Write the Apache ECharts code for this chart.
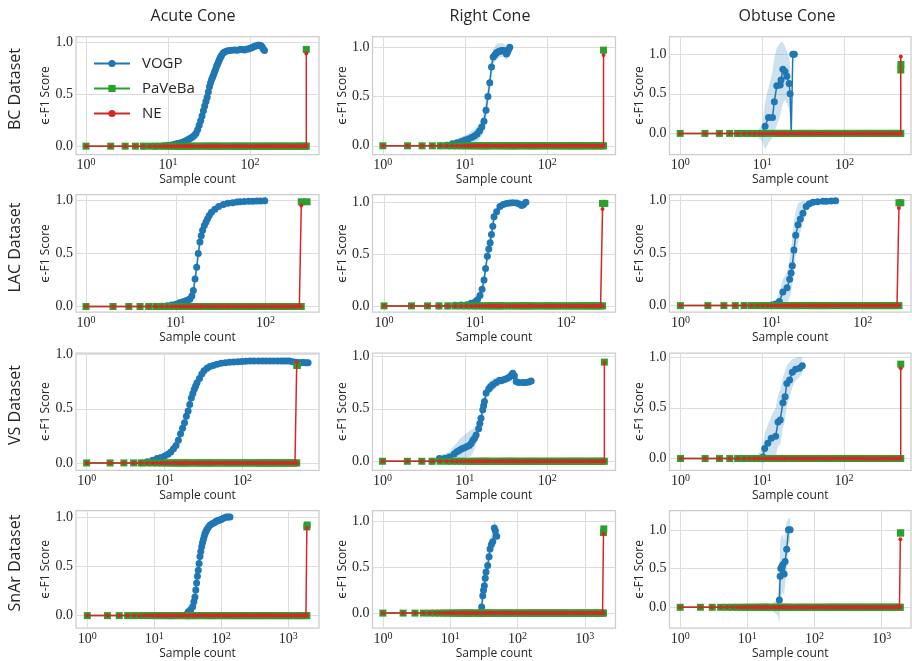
<!DOCTYPE html>
<html><head><meta charset="utf-8">
<script src="https://cdn.jsdelivr.net/npm/echarts@6/dist/echarts.min.js"></script>
<style>html,body{margin:0;padding:0;background:#fff}#c{width:912px;height:661px}</style>
</head><body><div id="c"></div><script>
// ---------------- data ----------------
const datasets = ['BC Dataset', 'LAC Dataset', 'VS Dataset', 'SnAr Dataset'];
const cones = ['Acute Cone', 'Right Cone', 'Obtuse Cone'];
const seriesNames = ['VOGP', 'PaVeBa', 'NE'];
const xTickValues = [[1, 10, 100], [1, 10, 100], [1, 10, 100], [1, 10, 100, 1000]];
const yTickValues = [0, 0.5, 1.0];

// sample counts at which the PaVeBa / NE scores (0 until the end) are plotted
const sampleCounts = [1,2,3,4,5,6,7,8,9,10,11,12,13,14,15,16,17,18,19,20,22,24,26,28,30,32,34,36,38,40,43,46,50,54,58,62,66,70,75,80,86,92,100,107,115,123,132,141,150,160,170,180,190,200,212,225,238,250,265,280,300,320,340,360,380,400,425,450,470,500,530,560,600,640,680,720,760,800,850,900,950,1000,1060,1120,1180,1250,1320,1400,1480,1560,1650,1740,1840,1900];
const finalCount = [485, 250, 495, 1900];      // sample count at which NE / PaVeBa finish
const neFinal = [[0.89, 0.92, 0.97], [0.955, 0.935, 0.93], [0.93, 0.94, 0.89], [0.89, 0.87, 0.88]];
const pavebaFinalBC   = [[[485, 0.93]], [[485, 0.97]], [[485, 0.80], [487, 0.87]]];
const pavebaFinalLAC  = [[[250, 0.99], [290, 0.99]], [[250, 0.99], [265, 0.99]], [[250, 0.98], [262, 0.98]]];
const pavebaFinalVS   = [[[495, 0.90], [505, 0.90]], [[495, 0.945]], [[495, 0.93]]];
const pavebaFinalSnAr = [[[1900, 0.90], [1920, 0.92]], [[1900, 0.88], [1920, 0.92]], [[1900, 0.96], [1920, 0.96]]];

// VOGP: [sample count, mean, lower, upper]
const vogpBcAcute = [[5,0,0,0],[7,0,0,0.005],[9,0.005,0,0.015],[10,0.008,0,0.02],[11,0.012,0,0.03],[12,0.018,0,0.04],[13,0.025,0.005,0.05],[14,0.03,0.01,0.055],[15,0.038,0.015,0.065],[16,0.048,0.02,0.075],[17,0.058,0.03,0.09],[18,0.068,0.04,0.1],[19,0.078,0.05,0.11],[20,0.09,0.06,0.125],[21,0.105,0.07,0.14],[22,0.125,0.09,0.165],[23,0.16,0.12,0.2],[24,0.2,0.16,0.245],[25,0.245,0.2,0.29],[26,0.29,0.245,0.335],[27,0.34,0.295,0.385],[28,0.385,0.34,0.43],[29,0.43,0.385,0.475],[30,0.47,0.425,0.515],[31,0.52,0.475,0.565],[32,0.57,0.525,0.61],[33,0.61,0.57,0.65],[34,0.64,0.6,0.68],[35,0.665,0.625,0.705],[36,0.69,0.65,0.73],[37,0.715,0.675,0.755],[38,0.74,0.7,0.78],[39,0.765,0.725,0.8],[40,0.785,0.75,0.82],[41,0.805,0.77,0.84],[42,0.825,0.79,0.86],[43,0.845,0.81,0.875],[44,0.86,0.83,0.89],[45,0.875,0.845,0.9],[47,0.895,0.87,0.92],[49,0.905,0.88,0.93],[52,0.915,0.89,0.94],[56,0.92,0.895,0.945],[60,0.922,0.9,0.945],[65,0.925,0.9,0.95],[70,0.922,0.9,0.945],[75,0.928,0.905,0.95],[80,0.93,0.905,0.955],[85,0.925,0.9,0.95],[90,0.932,0.91,0.955],[95,0.935,0.91,0.96],[100,0.94,0.915,0.965],[105,0.945,0.92,0.97],[110,0.955,0.93,0.98],[115,0.96,0.935,0.985],[120,0.965,0.94,0.99],[125,0.97,0.945,0.99],[130,0.97,0.945,0.99],[135,0.968,0.945,0.99],[140,0.955,0.93,0.98],[145,0.935,0.91,0.96],[150,0.92,0.895,0.945]];
const vogpBcRight = [[5,0,0,0],[6,0.005,0,0.02],[7,0.02,0,0.05],[8,0.03,0,0.07],[9,0.045,0.005,0.09],[10,0.058,0.01,0.105],[11,0.07,0.015,0.125],[12,0.085,0.02,0.15],[13,0.1,0.03,0.17],[14,0.12,0.045,0.195],[15,0.15,0.07,0.23],[16,0.19,0.1,0.28],[17,0.25,0.15,0.35],[18,0.36,0.25,0.47],[19,0.5,0.39,0.6],[20,0.64,0.54,0.74],[21,0.8,0.7,0.9],[22,0.9,0.82,0.98],[23,0.92,0.85,1.0],[24,0.94,0.87,1.03],[25,0.95,0.88,1.04],[26,0.955,0.89,1.04],[27,0.96,0.9,1.04],[28,0.965,0.9,1.04],[29,0.965,0.9,1.04],[30,0.96,0.89,1.03],[31,0.95,0.88,1.02],[32,0.93,0.87,1.0],[33,0.95,0.9,1.0],[34,0.98,0.95,1.01],[35,1.0,0.98,1.01]];
const vogpBcObtuse = [[5,0,0,0],[8,0,0,0],[10,0,-0.1,0.1],[10.8,0.09,-0.2,0.4],[11.9,0.2,-0.12,0.58],[13.3,0.2,-0.05,0.78],[14,0.4,0.02,0.95],[15,0.6,0.1,1.08],[16.5,0.61,0.22,1.14],[16.9,0.675,0.28,1.15],[17.8,0.81,0.38,1.15],[18.9,0.78,0.42,1.1],[19.9,0.72,0.38,1.04],[21.2,0.63,0.3,0.95],[21.8,0.5,0.1,0.85],[22.5,0,0,0],[23.5,1.0,1.0,1.0],[24.5,1.0,1.0,1.0]];
const vogpLacAcute = [[5,0,0,0],[7,0.003,0,0.01],[8,0.008,0,0.02],[9,0.015,0,0.03],[10,0.022,0.005,0.04],[11,0.035,0.015,0.055],[12,0.045,0.02,0.07],[13,0.055,0.03,0.085],[14,0.065,0.035,0.1],[14.4,0.07,0.04,0.11],[15.1,0.1,0.06,0.14],[15.7,0.15,0.1,0.2],[16.4,0.26,0.2,0.32],[17.1,0.37,0.3,0.44],[17.8,0.5,0.43,0.57],[18.6,0.61,0.54,0.68],[19.2,0.67,0.6,0.74],[19.9,0.72,0.65,0.79],[20.8,0.765,0.7,0.83],[21.7,0.8,0.74,0.86],[22.6,0.83,0.78,0.88],[23.6,0.86,0.81,0.9],[25,0.89,0.85,0.92],[27.3,0.92,0.89,0.945],[30,0.945,0.92,0.965],[33.9,0.965,0.945,0.98],[38,0.975,0.96,0.99],[43,0.982,0.97,0.995],[48,0.987,0.975,0.998],[52,0.99,0.98,1.0],[58,0.992,0.982,1.0],[65,0.994,0.985,1.0],[72,0.996,0.988,1.0],[80,0.997,0.99,1.0],[88,0.998,0.99,1.0],[98,1.0,0.995,1.0]];
const vogpLacRight = [[4,0,0,0],[5,0,0,0.01],[6,0.005,0,0.015],[7,0.008,0,0.02],[8.1,0.012,0,0.03],[9,0.025,0.005,0.045],[10,0.04,0.015,0.065],[10.6,0.06,0.03,0.09],[11.3,0.1,0.06,0.14],[11.9,0.16,0.11,0.21],[12.5,0.25,0.19,0.31],[13,0.36,0.29,0.43],[13.6,0.48,0.41,0.55],[14.1,0.55,0.48,0.62],[14.6,0.61,0.54,0.68],[15.1,0.69,0.62,0.76],[15.6,0.77,0.7,0.83],[16.1,0.86,0.8,0.91],[17.2,0.91,0.87,0.95],[18.7,0.96,0.93,0.985],[20.3,0.98,0.96,0.995],[22.1,0.99,0.975,1.0],[24,0.995,0.98,1.005],[26,0.996,0.985,1.005],[28.5,0.995,0.985,1.005],[30.5,0.985,0.97,1.0],[32.4,0.97,0.955,0.985],[34,0.98,0.965,0.995],[36,1.0,0.99,1.01]];
const vogpLacObtuse = [[5,0,0,0],[8,0,0,0.005],[10,0.005,0,0.015],[11,0.015,0,0.04],[12.2,0.04,-0.03,0.12],[13.3,0.13,-0.02,0.25],[14.8,0.17,0.02,0.32],[15.8,0.25,0.08,0.45],[16.4,0.31,0.13,0.55],[16.9,0.38,0.2,0.65],[17.6,0.53,0.32,0.8],[18.4,0.67,0.47,0.9],[19.5,0.77,0.6,0.97],[20.7,0.825,0.7,0.99],[22.1,0.88,0.79,1.0],[24,0.945,0.9,0.995],[26,0.97,0.94,0.995],[28.5,0.985,0.965,1.0],[32,0.99,0.975,1.0],[36.7,0.995,0.985,1.0],[40,0.995,0.985,1.0],[45,0.998,0.99,1.0],[50.5,1.0,0.995,1.0]];
const vogpVsAcute = [[5,0,0,0.01],[6,0.01,0,0.03],[7,0.025,0,0.05],[8,0.04,0.01,0.07],[9,0.05,0.02,0.08],[10,0.065,0.03,0.1],[11,0.08,0.04,0.115],[12,0.1,0.06,0.135],[13,0.13,0.09,0.17],[14,0.16,0.12,0.2],[15,0.21,0.17,0.25],[16,0.27,0.23,0.31],[17,0.32,0.28,0.36],[18,0.37,0.33,0.41],[19,0.43,0.39,0.47],[20,0.48,0.44,0.52],[21,0.54,0.5,0.58],[22,0.6,0.56,0.64],[23,0.64,0.6,0.68],[24,0.68,0.64,0.72],[25,0.71,0.67,0.75],[26,0.74,0.7,0.77],[28,0.78,0.75,0.81],[30,0.82,0.79,0.845],[32,0.85,0.825,0.87],[35,0.875,0.855,0.895],[38,0.89,0.87,0.91],[42,0.9,0.88,0.92],[47,0.91,0.89,0.93],[53,0.92,0.9,0.94],[60,0.925,0.905,0.945],[68,0.93,0.91,0.95],[77,0.932,0.912,0.952],[87,0.935,0.915,0.955],[98,0.937,0.917,0.957],[110,0.938,0.918,0.958],[125,0.94,0.92,0.96],[140,0.94,0.92,0.96],[160,0.94,0.92,0.96],[180,0.94,0.92,0.96],[200,0.94,0.92,0.96],[225,0.942,0.922,0.962],[250,0.94,0.92,0.96],[280,0.94,0.92,0.96],[310,0.94,0.92,0.96],[340,0.942,0.922,0.962],[370,0.94,0.92,0.96],[400,0.94,0.92,0.96],[440,0.935,0.915,0.955],[480,0.93,0.91,0.95],[520,0.928,0.908,0.948],[560,0.925,0.905,0.945],[600,0.928,0.908,0.948],[650,0.925,0.905,0.945],[692,0.925,0.905,0.945]];
const vogpVsRight = [[4,0,0,0.01],[4.9,0.026,0,0.06],[5.7,0.03,0,0.07],[6.5,0.04,0,0.09],[7.4,0.07,0,0.15],[8,0.09,0.01,0.18],[8.6,0.105,0.02,0.21],[9.2,0.12,0.03,0.23],[9.9,0.13,0.03,0.25],[10.6,0.14,0.04,0.27],[11.3,0.15,0.04,0.29],[11.9,0.17,0.05,0.3],[12.5,0.2,0.08,0.31],[13.1,0.22,0.12,0.32],[13.7,0.25,0.16,0.34],[14.7,0.31,0.24,0.38],[15.2,0.36,0.29,0.43],[15.7,0.41,0.34,0.48],[16.5,0.49,0.42,0.56],[16.9,0.53,0.46,0.6],[17.3,0.57,0.5,0.64],[18.1,0.65,0.58,0.72],[19.5,0.69,0.63,0.75],[20.5,0.71,0.65,0.77],[21.8,0.73,0.67,0.79],[24,0.75,0.7,0.8],[26.3,0.77,0.72,0.81],[28,0.77,0.73,0.81],[30.2,0.78,0.74,0.82],[32.5,0.79,0.75,0.83],[34.7,0.8,0.76,0.84],[36.5,0.82,0.78,0.86],[38.2,0.84,0.8,0.87],[40,0.815,0.78,0.85],[42,0.76,0.73,0.79],[45,0.75,0.72,0.78],[50.5,0.75,0.72,0.78],[55,0.75,0.72,0.78],[60,0.755,0.725,0.785],[63.9,0.765,0.735,0.795]];
const vogpVsObtuse = [[5,0,0,0],[8,0,0,0],[10.2,0.016,-0.05,0.1],[10.7,0.1,-0.04,0.25],[11.7,0.15,-0.02,0.33],[12.9,0.2,0.0,0.42],[14.6,0.22,0.02,0.5],[15.6,0.36,0.12,0.62],[16.6,0.38,0.14,0.68],[17.9,0.55,0.3,0.8],[19,0.61,0.38,0.86],[20,0.74,0.52,0.92],[21.6,0.775,0.6,0.95],[23.3,0.85,0.7,0.98],[25.6,0.88,0.77,0.99],[28.6,0.89,0.8,1.0],[30.9,0.915,0.84,1.0]];
const vogpSnarAcute = [[20,0,0,0],[28,0,-0.01,0.01],[30,0.01,-0.04,0.06],[32.2,0.04,-0.05,0.1],[35,0.06,0.0,0.12],[37.4,0.09,0.04,0.14],[39,0.14,0.09,0.19],[40.5,0.19,0.14,0.24],[41.7,0.26,0.21,0.31],[42.9,0.33,0.28,0.38],[44.1,0.4,0.35,0.45],[45.4,0.46,0.41,0.51],[46.7,0.53,0.48,0.58],[48.1,0.6,0.55,0.65],[49.5,0.65,0.6,0.7],[51,0.7,0.65,0.75],[52.5,0.74,0.7,0.78],[54,0.77,0.73,0.81],[55.5,0.8,0.76,0.84],[57.1,0.83,0.79,0.86],[59,0.855,0.82,0.885],[61,0.875,0.845,0.905],[64,0.895,0.865,0.92],[67.8,0.916,0.89,0.94],[72,0.93,0.905,0.95],[77,0.94,0.92,0.96],[82,0.95,0.93,0.97],[85.2,0.96,0.94,0.975],[90,0.965,0.95,0.98],[95,0.97,0.955,0.985],[100,0.975,0.96,0.99],[106,0.985,0.97,0.995],[113.5,0.995,0.985,1.0],[120,1.0,0.99,1.005],[127,1.0,0.99,1.005],[135,1.0,0.99,1.005]];
const vogpSnarRight = [[20,0,0,0],[27,0,-0.02,0.02],[29.4,0.066,-0.06,0.17],[30.5,0.19,0.08,0.3],[31.3,0.25,0.14,0.36],[32.2,0.3,0.2,0.41],[33.2,0.38,0.28,0.49],[34.1,0.45,0.35,0.56],[36.1,0.52,0.42,0.63],[37.8,0.615,0.52,0.72],[39.1,0.7,0.6,0.8],[41,0.75,0.66,0.85],[42.9,0.78,0.7,0.88],[45.3,0.93,0.84,1.03],[47,0.9,0.82,0.99],[49.1,0.84,0.76,0.92]];
const vogpSnarObtuse = [[20,0,0,0],[28,0,-0.1,0.1],[30,0.095,-0.2,0.45],[30.8,0.4,0.0,0.8],[31.5,0.5,0.1,0.9],[32.5,0.52,0.15,0.92],[33.7,0.55,0.2,0.95],[35.3,0.43,0.15,0.85],[36.5,0.59,0.3,0.98],[38.6,0.75,0.45,1.1],[41,1.0,0.8,1.15],[43.3,1.0,0.85,1.15]];

const vogpData = [
  [vogpBcAcute, vogpBcRight, vogpBcObtuse],
  [vogpLacAcute, vogpLacRight, vogpLacObtuse],
  [vogpVsAcute, vogpVsRight, vogpVsObtuse],
  [vogpSnarAcute, vogpSnarRight, vogpSnarObtuse]
];
const pavebaFinal = [pavebaFinalBC, pavebaFinalLAC, pavebaFinalVS, pavebaFinalSnAr];

// ---------------- layout ----------------
const colLeft = [76, 372.5, 669.5];
const colWidth = [243, 243, 241.5];
const rowTop = [36.5, 194.7, 353, 510.5];
const rowHeight = [118, 117.5, 117.3, 117.7];
const xRange = [
  [[0.755, 693], [0.748, 678], [0.741, 646]],
  [[0.774, 394], [0.746, 347], [0.759, 339]],
  [[0.73, 955], [0.755, 676], [0.733, 661]],
  [[0.678, 2884], [0.701, 2864], [0.693, 2735]]
];
const yRange = [
  [[-0.08, 1.054], [-0.088, 1.108], [-0.266, 1.223]],
  [[-0.054, 1.057], [-0.061, 1.074], [-0.063, 1.057]],
  [[-0.068, 1.015], [-0.086, 1.032], [-0.116, 1.04]],
  [[-0.128, 1.067], [-0.165, 1.121], [-0.27, 1.25]]
];

const SANS = "'Open Sans', 'DejaVu Sans', sans-serif";
const SERIF = "'Liberation Serif', 'DejaVu Serif', serif";
const TXT = '#262626';
const BLUE = '#1f77b4', GREEN = '#2ca02c', RED = '#d62728';

const option = {
  animation: false,
  backgroundColor: '#ffffff',
  grid: [], xAxis: [], yAxis: [], series: [], graphic: [],
  legend: {
    data: seriesNames, orient: 'vertical', left: 88, top: 51,
    itemWidth: 36, itemHeight: 9, itemGap: 10,
    textStyle: { fontFamily: SANS, fontSize: 15, color: TXT, lineHeight: 14, padding: [0, 0, 0, 7] }
  }
};

function bandSeries(points, idx) {
  return {
    type: 'custom', name: 'VOGP band', xAxisIndex: idx, yAxisIndex: idx, silent: true, clip: true, z: 1,
    data: points.map(p => [p[0], p[2], p[3]]),
    encode: { x: 0, y: [1, 2] },
    renderItem: function (params, api) {
      if (params.dataIndex !== 0) return null;
      const upper = points.map(p => api.coord([p[0], p[3]]));
      const lower = points.map(p => api.coord([p[0], p[2]])).reverse();
      return { type: 'polygon', shape: { points: upper.concat(lower) }, style: { fill: 'rgba(31,119,180,0.22)' } };
    }
  };
}

for (let r = 0; r < 4; r++) {
  for (let c = 0; c < 3; c++) {
    const idx = r * 3 + c;
    option.grid.push({
      left: colLeft[c], top: rowTop[r], width: colWidth[c], height: rowHeight[r],
      show: true, borderColor: '#cccccc', borderWidth: 1.25, containLabel: false, outerBoundsMode: 'none'
    });
    option.xAxis.push({
      type: 'log', logBase: 10, gridIndex: idx, min: xRange[r][c][0], max: xRange[r][c][1],
      axisLine: { show: false }, axisTick: { show: false, customValues: xTickValues[r] },
      axisLabel: {
        customValues: xTickValues[r], margin: 3,
        formatter: v => '{b|10}{e|' + Math.round(Math.log10(v)) + '}',
        rich: {
          b: { fontFamily: SERIF, fontSize: 14, lineHeight: 16, color: TXT },
          e: { fontFamily: SERIF, fontSize: 10, lineHeight: 6, verticalAlign: 'top', color: TXT }
        }
      },
      splitLine: { show: true, lineStyle: { color: '#dddddd', width: 1 } },
      minorSplitLine: { show: false },
      name: 'Sample count', nameLocation: 'middle', nameGap: 18,
      nameTextStyle: { fontFamily: SANS, fontSize: 12, color: TXT }
    });
    option.yAxis.push({
      type: 'value', gridIndex: idx, min: yRange[r][c][0], max: yRange[r][c][1],
      axisLine: { show: false }, axisTick: { show: false, customValues: yTickValues },
      axisLabel: {
        customValues: yTickValues, margin: 3, formatter: v => v.toFixed(1),
        fontFamily: SERIF, fontSize: 14, color: TXT
      },
      splitLine: { show: true, lineStyle: { color: '#dddddd', width: 1 } },
      name: 'ϵ-F1 Score', nameLocation: 'middle', nameGap: 22,
      nameTextStyle: { fontFamily: SANS, fontSize: 12, color: TXT }
    });

    const pts = vogpData[r][c];
    option.series.push(bandSeries(pts, idx));
    option.series.push({
      type: 'line', name: 'VOGP', xAxisIndex: idx, yAxisIndex: idx, z: 2,
      data: pts.map(p => [p[0], p[1]]),
      symbol: 'circle', symbolSize: 7, showSymbol: true, clip: true,
      lineStyle: { color: BLUE, width: 1.5 }, itemStyle: { color: BLUE }
    });
    const zeroPart = sampleCounts.filter(s => s < finalCount[r]).map(s => [s, 0]).concat([[finalCount[r], 0]]);
    option.series.push({
      type: 'line', name: 'PaVeBa', xAxisIndex: idx, yAxisIndex: idx, z: 3,
      // the jump to the final score lies under the NE line, so the line is broken there
      data: zeroPart.concat([[finalCount[r], '-']], pavebaFinal[r][c]),
      connectNulls: false, symbol: 'rect', symbolSize: 7, showSymbol: true, clip: true,
      lineStyle: { color: GREEN, width: 1.5 }, itemStyle: { color: GREEN }
    });
    option.series.push({
      type: 'line', name: 'NE', xAxisIndex: idx, yAxisIndex: idx, z: 4,
      data: zeroPart.concat([[finalCount[r], neFinal[r][c]]]), symbol: 'circle', symbolSize: 4, showSymbol: true, clip: true,
      lineStyle: { color: RED, width: 1.5 }, itemStyle: { color: RED }
    });
  }
}

// column titles and row labels
const titleX = [193, 490, 787];
cones.forEach((t, c) => option.graphic.push({
  type: 'text', x: titleX[c], y: 16,
  style: { text: t, font: '16px ' + SANS, fill: TXT, textAlign: 'center', textVerticalAlign: 'middle' }
}));
const rowLabelY = [89, 247.5, 405, 563];
datasets.forEach((t, r) => option.graphic.push({
  type: 'text', x: 15, y: rowLabelY[r], rotation: Math.PI / 2,
  style: { text: t, font: '16px ' + SANS, fill: TXT, textAlign: 'center', textVerticalAlign: 'middle' }
}));

const chart = echarts.init(document.getElementById('c'), null, { renderer: 'canvas' });
chart.setOption(option);
</script></body></html>
